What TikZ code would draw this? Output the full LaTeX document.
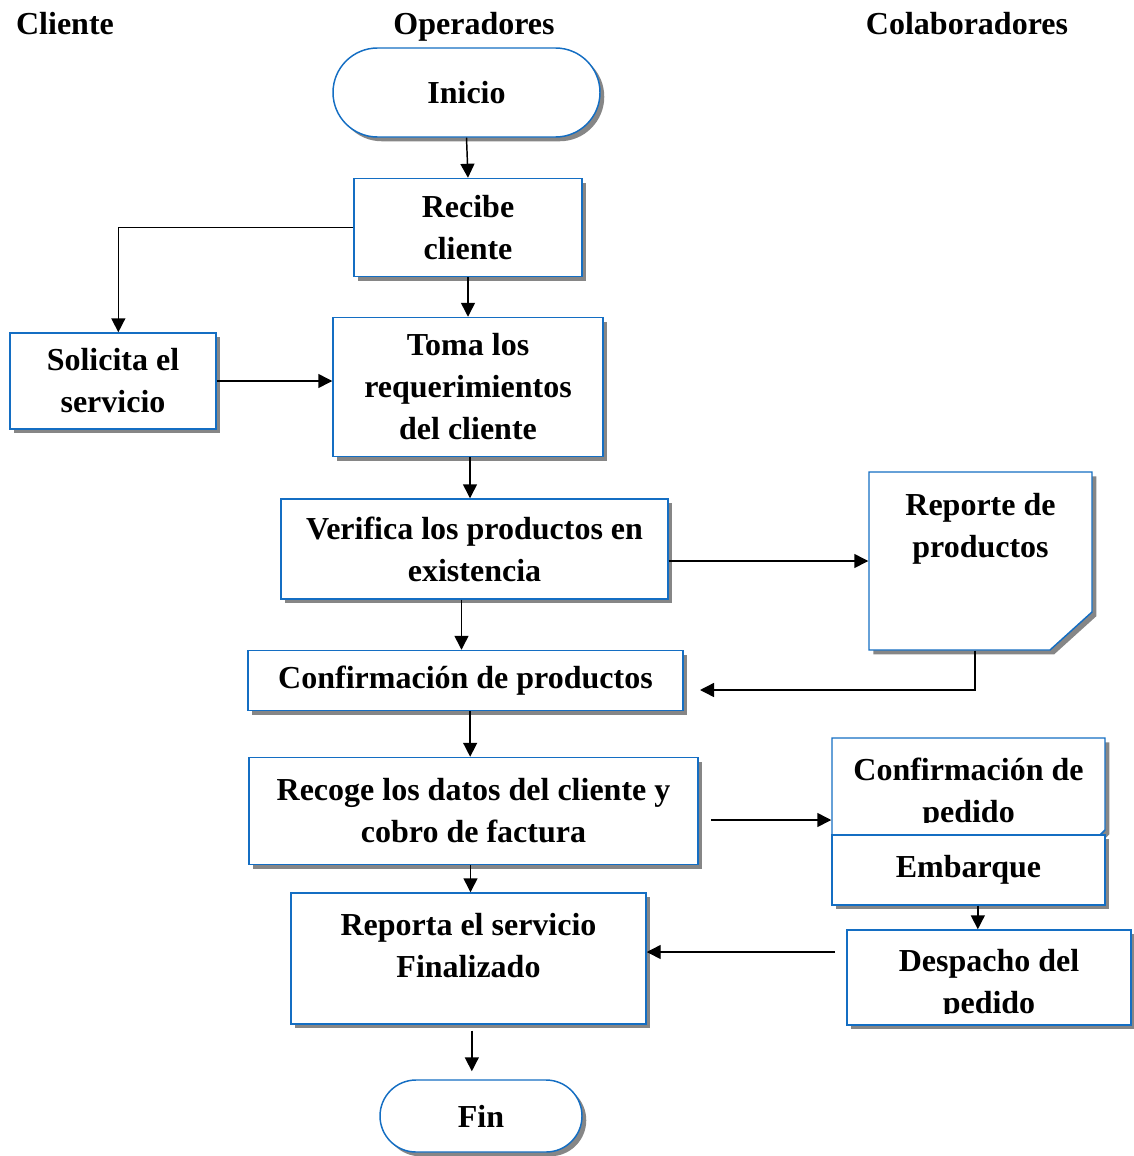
\documentclass[tikz,border=0pt]{standalone}
\usepackage{fontspec}
\setmainfont{Liberation Serif}
\usetikzlibrary{arrows.meta,shapes.misc,shadows}
\definecolor{boxblue}{RGB}{20,110,195}
\begin{document}
\begin{tikzpicture}[x=0.75pt,y=-0.75pt,line width=1.1pt,
    txt/.style={font=\fontsize{24}{31.5}\selectfont\bfseries,align=center},
    outline/.style={draw=boxblue,line width=1.1pt,fill=white,
      drop shadow={shadow xshift=3.2pt,shadow yshift=-3.2pt,fill=gray!95,opacity=1}},
    box/.style={outline,inner sep=0pt,txt},
    term/.style={box,rounded rectangle},
    hidden/.style={inner sep=0pt,txt},
    >={Triangle[length=10.5pt,width=10.5pt]}]
    \useasboundingbox (0,0) rectangle (1133,1156);
    %%% headers
    \node[txt,anchor=base] (hcli) at (65,35) {Cliente};
    \node[txt,anchor=base] (hope) at (474,35) {Operadores};
    \node[txt,anchor=base] (hcol) at (967,35) {Colaboradores};
    %%% boxes
    \node[term,minimum width=200.25pt,minimum height=66.75pt] (inicio) at (466.5,92.5) {Inicio};
    \node[box,minimum width=171pt,minimum height=73.5pt] (recibe) at (468,227.5) {Recibe\\cliente};
    \node[box,minimum width=154.5pt,minimum height=72pt] (solicita) at (113,381) {Solicita el\\servicio};
    \node[box,minimum width=202.5pt,minimum height=104.25pt] (toma) at (468,387) {Toma los\\requerimientos\\del cliente};
    \node[box,minimum width=290.25pt,minimum height=75pt] (verifica) at (474.5,549) {Verifica los productos en\\existencia};
    % documento con esquina cortada
    \path[outline] (869,472) -- (1092,472) -- (1092,612) -- (1050,650) -- (869,650) -- cycle;
    \node[hidden,minimum width=167.25pt,minimum height=133.5pt,
      label={[txt,yshift=24pt]center:{Reporte de\\productos}}] (reporte) at (980.5,561) {};
    \node[box,minimum width=326.25pt,minimum height=45pt] (confprod) at (465.5,680.5) {Confirmación de productos};
    \node[box,minimum width=336.75pt,minimum height=80.25pt] (recoge) at (473.5,811) {Recoge los datos del cliente y\\cobro de factura};
    \path[outline] (832,738) -- (1105,738) -- (1105,830) -- (1100,835) -- (832,835) -- cycle;
    \node[hidden,minimum width=204.75pt,minimum height=72.75pt] (pedido) at (968.5,786.5) {};
    \begin{scope}
      \clip (832,738) rectangle (1105,822);
      \node[txt] (pedidotxt) at (968.5,794) {Confirmación de\\pedido};
    \end{scope}
    \node[box,minimum width=204.75pt,minimum height=52.5pt] (embarque) at (968.5,870) {Embarque};
    \node[box,minimum width=266.25pt,minimum height=98.25pt,
      label={[txt,yshift=10pt]center:{Reporta el servicio\\Finalizado}}] (reporta) at (468.5,958.5) {};
    \node[box,minimum width=213pt,minimum height=71.25pt] (despacho) at (989,977.5) {};
    \begin{scope}
      \clip (847,930) rectangle (1131,1013);
      \node[txt] (despachotxt) at (989,985) {Despacho del\\pedido};
    \end{scope}
    \node[term,minimum width=151.5pt,minimum height=54pt] (fin) at (481,1116) {Fin};
    %%% connectors
    \coordinate (c1) at (700,690);
    \coordinate (c2) at (711,820);
    \coordinate (c3) at (835,952);
    \draw[->] (inicio.south) -- (recibe.north);
    \draw[->] (recibe.west) -| ([xshift=4pt]solicita.north);
    \draw[->] (recibe.south) -- (toma.north);
    \draw[->] (solicita.east) -- (toma.west |- solicita.east);
    \draw[->] ([xshift=1.5pt]toma.south) -- ([xshift=1.5pt]toma.south |- verifica.north);
    \draw[->] (verifica.east |- reporte.west) -- (reporte.west);
    \draw[->] ([xshift=-3pt]confprod.north |- verifica.south) -- ([xshift=-3pt]confprod.north);
    \draw[->] ([xshift=-4pt]reporte.south) |- (c1);
    \draw[->] ([xshift=-2.5pt]recoge.north |- confprod.south) -- ([xshift=-2.5pt]recoge.north);
    \draw[->] (c2) -- (pedido.west |- c2);
    \draw[->] ([xshift=7pt]embarque.south) -- ([xshift=7pt]embarque.south |- despacho.north);
    \draw[->] (c3) -- (reporta.east |- c3);
    \draw[->] ([xshift=1.5pt]reporta.north |- recoge.south) -- ([xshift=1.5pt]reporta.north);
    \draw[->,shorten <=4.5pt,shorten >=6pt] ([xshift=2.5pt]reporta.south) -- ([xshift=2.5pt]reporta.south |- fin.north);
\end{tikzpicture}
\end{document}
